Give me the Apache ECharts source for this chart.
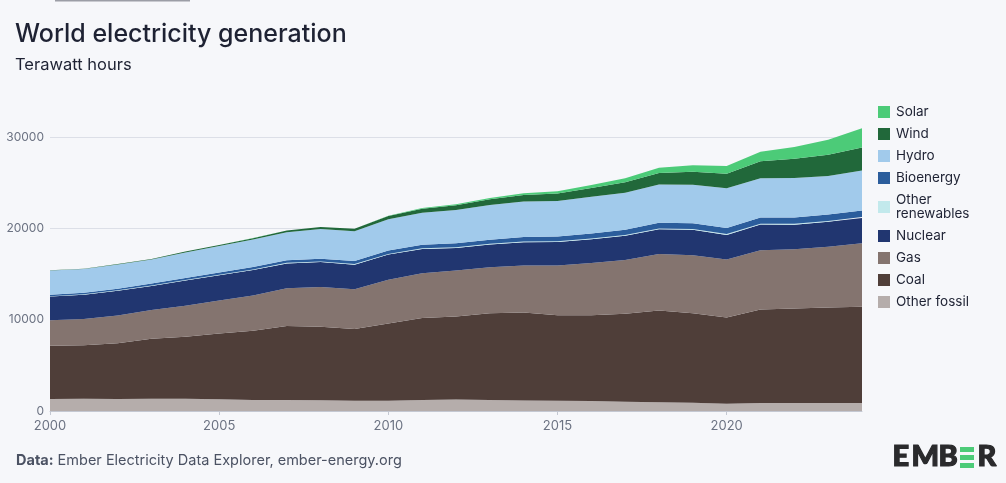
<!DOCTYPE html>
<html>
<head>
<meta charset="utf-8">
<script src="https://cdn.jsdelivr.net/npm/echarts@6/dist/echarts.min.js"></script>
<style>
html,body{margin:0;padding:0;background:#f6f7fa;}
#chart{width:1006px;height:483px;}
</style>
</head>
<body>
<div id="chart"></div>
<script>
const years = ['2000','2001','2002','2003','2004','2005','2006','2007','2008','2009','2010','2011','2012','2013','2014','2015','2016','2017','2018','2019','2020','2021','2022','2023','2024'];
const otherFossil = [1320,1340,1320,1340,1330,1300,1200,1200,1180,1130,1130,1200,1250,1200,1150,1130,1100,1000,950,900,800,870,880,880,880];
const coal = [5830,5850,6100,6570,6800,7200,7600,8100,8050,7850,8450,9000,9100,9500,9650,9350,9400,9650,10050,9800,9450,10250,10350,10450,10550];
const gas = [2800,2900,3050,3150,3400,3600,3850,4150,4350,4350,4800,4900,5050,5050,5150,5450,5700,5900,6200,6350,6350,6500,6500,6650,6950];
const nuclear = [2580,2650,2700,2640,2760,2770,2800,2720,2730,2700,2760,2650,2460,2480,2540,2570,2610,2640,2710,2790,2690,2800,2680,2740,2770];
const otherRenewables = [52,54,56,58,60,62,63,64,65,67,70,72,75,78,80,82,85,87,90,92,95,97,98,99,100];
const bioenergy = [150,160,175,195,215,235,255,275,300,330,370,400,430,460,490,520,550,580,610,630,650,680,690,695,700];
const hydro = [2650,2590,2640,2640,2810,2920,3030,3080,3260,3250,3430,3500,3660,3800,3900,3890,4020,4060,4190,4230,4360,4310,4330,4230,4400];
const wind = [31,38,52,63,85,104,133,171,220,276,342,437,524,635,706,831,957,1134,1267,1420,1598,1850,2100,2330,2500];
const solar = [1,2,2,3,3,4,6,8,12,20,32,64,99,135,190,256,329,445,580,700,850,1030,1300,1640,2130];
const yTicks = [0,10000,20000,30000];

const layers = [
  {name:'Other fossil', data: otherFossil, color:'#b5adab'},
  {name:'Coal', data: coal, color:'#4f3e39'},
  {name:'Gas', data: gas, color:'#84746f'},
  {name:'Nuclear', data: nuclear, color:'#213670'},
  {name:'Other\nrenewables', data: otherRenewables, color:'#c2e9ec'},
  {name:'Bioenergy', data: bioenergy, color:'#2b5d9c'},
  {name:'Hydro', data: hydro, color:'#a1caeb'},
  {name:'Wind', data: wind, color:'#21683a'},
  {name:'Solar', data: solar, color:'#4ccb78'}
];

const chart = echarts.init(document.getElementById('chart'));
const FONT = 'Inter, "Noto Sans", sans-serif';
const LOGO_FONT = 'Lato, "DejaVu Sans", sans-serif';
function logoLetter(ch, x){
  return {type:'text', left:x, top:442, style:{text:ch, fontSize:29, fontWeight:900, fill:'#2a2a2c', stroke:'#2a2a2c', lineWidth:1.2, fontFamily:LOGO_FONT}};
}
chart.setOption({
  backgroundColor:'#f6f7fa',
  animation:false,
  textStyle:{fontFamily:FONT},
  title:[
    {text:'World electricity generation', left:10, top:17,
     textStyle:{fontSize:25, fontWeight:500, color:'#1e2233', fontFamily:FONT},
     subtext:'Terawatt hours', itemGap:10,
     subtextStyle:{fontSize:16.5, color:'#1e2233', fontFamily:FONT}},
    {text:'{b|Data:} Ember Electricity Data Explorer, ember-energy.org', left:11, top:448,
     textStyle:{fontSize:14.5, fontWeight:400, color:'#4b5263', fontFamily:FONT,
       rich:{b:{fontSize:14.5, fontWeight:700, color:'#4b5263', fontFamily:FONT}}}}
  ],
  legend:{
    orient:'vertical', left:873, top:100, itemGap:8, itemWidth:12, itemHeight:12,
    icon:'rect', selectedMode:false,
    data: layers.map(l=>l.name).reverse(),
    textStyle:{fontSize:13.5, color:'#1e2233', lineHeight:14, fontFamily:FONT, padding:[0,0,0,1]}
  },
  grid:{left:50, right:144, top:100.6, bottom:72},
  xAxis:{
    type:'category', data:years, boundaryGap:false,
    axisLine:{lineStyle:{color:'#c4c8d2'}},
    axisTick:{show:true, interval:4, length:4, lineStyle:{color:'#c4c8d2'}},
    axisLabel:{interval:4, color:'#6b7282', fontSize:13, margin:9, fontFamily:FONT},
    splitLine:{show:false}
  },
  yAxis:{
    type:'value', min:0, max:34000, interval:10000,
    axisLine:{show:false}, axisTick:{show:false},
    axisLabel:{color:'#6b7282', fontSize:12, margin:6, showMaxLabel:false, fontFamily:FONT,
      formatter:v=> yTicks.indexOf(v)>=0 ? String(v) : ''},
    splitLine:{show:true, showMaxLine:false, lineStyle:{color:'#dcdfe7', width:1}}
  },
  series: layers.map(l=>({
    name:l.name, type:'line', stack:'total', data:l.data, symbol:'none',
    itemStyle:{color:l.color},
    lineStyle:{width:0, color:l.color},
    areaStyle:{color:l.color, opacity:1},
    emphasis:{disabled:true}
  })),
  graphic:[
    {type:'rect', left:55, top:0, shape:{width:135, height:1.5}, style:{fill:'#9c9ea6'}},
    logoLetter('E', 892),
    logoLetter('M', 911),
    logoLetter('B', 938),
    {type:'rect', left:960, top:447, shape:{width:14, height:5}, style:{fill:'#4ccb78'}},
    {type:'rect', left:960, top:455, shape:{width:14, height:5}, style:{fill:'#4ccb78'}},
    {type:'rect', left:960, top:463, shape:{width:14, height:5}, style:{fill:'#4ccb78'}},
    logoLetter('R', 977)
  ]
});
</script>
</body>
</html>
